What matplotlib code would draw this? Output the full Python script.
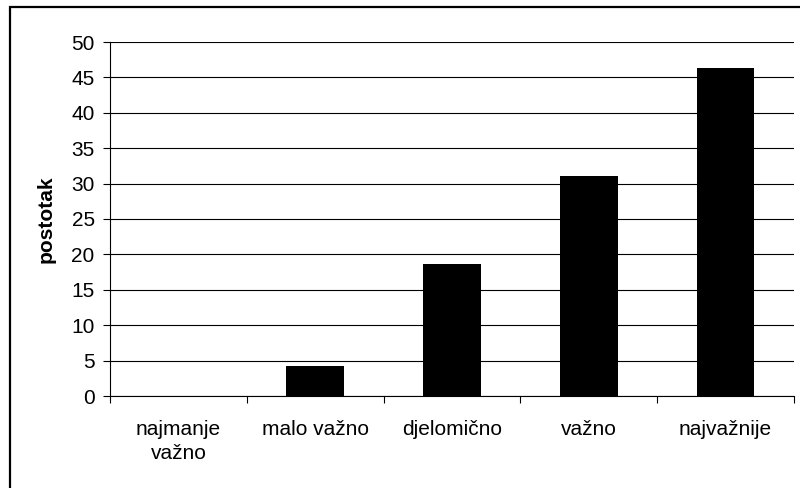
import matplotlib
matplotlib.use("Agg")
import matplotlib.pyplot as plt
from matplotlib.patches import Rectangle
from matplotlib.ticker import FixedLocator

plt.rcParams['font.family'] = ['Liberation Sans', 'DejaVu Sans']

# podaci
kategorije = ['najmanje\nvažno', 'malo važno', 'djelomično', 'važno', 'najvažnije']
postotak = [0.0, 4.3, 18.6, 31.1, 46.3]
y_ticks = [0, 5, 10, 15, 20, 25, 30, 35, 40, 45, 50]

fig = plt.figure(figsize=(8, 4.88), dpi=100)
ax = fig.add_axes([110/800, 1 - 396/488, 684/800, 354/488])

x = list(range(len(kategorije)))
ax.bar(x, postotak, width=0.42, color='black', zorder=3)

ax.set_xlim(-0.5, len(kategorije) - 0.5)
ax.set_ylim(0, 50)
ax.set_yticks(y_ticks)
ax.yaxis.grid(True, color='black', linewidth=0.8, zorder=0)

# crtice na granicama kategorija, natpisi u sredini
ax.xaxis.set_major_locator(FixedLocator([i - 0.5 for i in range(len(kategorije) + 1)]))
ax.xaxis.set_major_formatter(plt.NullFormatter())
ax.set_xticks(x, minor=True)
ax.set_xticklabels(kategorije, minor=True, fontsize=15, linespacing=1.35)
ax.tick_params(axis='x', which='major', length=5, width=0.8, direction='out')
ax.tick_params(axis='x', which='minor', length=0, pad=17)
ax.tick_params(axis='y', length=5, width=0.8, labelsize=15, pad=6)

for s in ['top', 'right']:
    ax.spines[s].set_visible(False)
for s in ['left', 'bottom']:
    ax.spines[s].set_linewidth(0.8)
    ax.spines[s].set_color('black')

ax.set_ylabel('postotak', fontsize=15, fontweight='bold', labelpad=11)

# okvir oko grafikona
fig.patches.append(Rectangle((10/800, -0.2), 1.2, 1.2 - 7/488, transform=fig.transFigure,
                             fill=False, edgecolor='black', linewidth=1.6, zorder=10))

fig.savefig('out.png', dpi=100)
